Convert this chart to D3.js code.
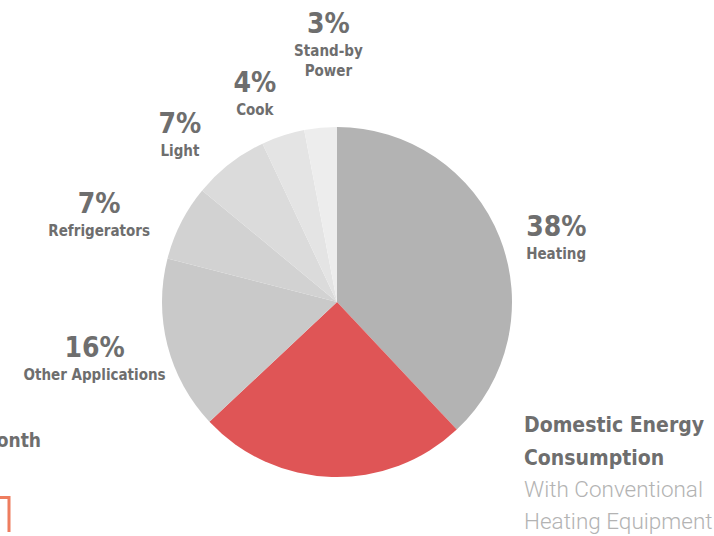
<!DOCTYPE html>
<meta charset="utf-8">
<body>
<style>
    body { margin: 0; background: #fff; }
    svg { display: block; }
    .pct { font-family: "DejaVu Sans Condensed", "DejaVu Sans", sans-serif; font-stretch: condensed; font-weight: bold; font-size: 28px; fill: #6e6e6e; }
    .cat { font-family: "DejaVu Sans Condensed", "DejaVu Sans", sans-serif; font-stretch: condensed; font-weight: bold; font-size: 15px; fill: #6e6e6e; }
    .title { font-family: "DejaVu Sans Condensed", "DejaVu Sans", sans-serif; font-stretch: condensed; font-weight: bold; font-size: 21px; fill: #6e6e6e; }
    .sub { font-family: Roboto, sans-serif; font-weight: 300; font-size: 22.5px; fill: #b3b3b3; }
</style>

<script src="https://d3js.org/d3.v7.min.js"></script>
<script>
    // slices, clockwise from 12 o'clock
    const categories = ["Heating", "", "Other Applications", "Refrigerators", "Light", "Cook", "Stand-by Power"];
    const values = [38, 25, 16, 7, 7, 4, 3];
    const colors = ["#b3b3b3", "#df5556", "#c9c9c9", "#d2d2d2", "#dbdbdb", "#e4e4e4", "#ededed"];
    // category text split onto lines
    const catLines = [["Heating"], [], ["Other Applications"], ["Refrigerators"], ["Light"], ["Cook"], ["Stand-by", "Power"]];

    const width = 714, height = 536;
    const cx = 337, cy = 302, radius = 175;

    const svg = d3.select("body").append("svg")
        .attr("width", width)
        .attr("height", height);

    const g = svg.append("g")
        .attr("transform", "translate(" + cx + "," + cy + ")");

    const pie = d3.pie().sort(null).value(d => d);
    const arcs = pie(values);

    const arc = d3.arc().innerRadius(0).outerRadius(radius);
    const labelArc = d3.arc().innerRadius(240).outerRadius(240);

    g.selectAll("path")
        .data(arcs)
      .enter().append("path")
        .attr("d", arc)
        .attr("fill", (d, i) => colors[i]);

    // nudges from the label arc centroid to the percent baseline
    const nudge = [[-34, 22], [0, 0], [-10, -5], [-24, 20], [-10, 21], [-8, 18], [14, -30]];

    arcs.forEach((d, i) => {
        if (!categories[i]) return;
        const c = labelArc.centroid(d);
        const x = c[0] + nudge[i][0], y = c[1] + nudge[i][1];
        const anchor = i === 0 ? "start" : "middle";
        const lab = g.append("g").attr("transform", "translate(" + x + "," + y + ")");
        lab.append("text")
            .attr("class", "pct")
            .attr("text-anchor", anchor)
            .text(values[i] + "%");
        catLines[i].forEach((t, j) => {
            lab.append("text")
                .attr("class", "cat")
                .attr("text-anchor", anchor)
                .attr("y", 23 + j * 20)
                .text(t);
        });
    });

    // title block
    const title = svg.append("g").attr("transform", "translate(524,0)");
    title.append("text").attr("class", "title").attr("y", 432).text("Domestic Energy");
    title.append("text").attr("class", "title").attr("y", 465).text("Consumption");
    title.append("text").attr("class", "sub").attr("y", 497).text("With Conventional");
    title.append("text").attr("class", "sub").attr("y", 529).text("Heating Equipment");

    // leftover from the neighbouring panel
    svg.append("text").attr("class", "title")
        .attr("x", 41).attr("y", 447)
        .attr("text-anchor", "end")
        .style("font-size", "19px")
        .text("Month");
    svg.append("path")
        .attr("d", "M0,497.5H9V532")
        .attr("fill", "none")
        .attr("stroke", "#ee7d5f")
        .attr("stroke-width", 3);
</script>
</body>
